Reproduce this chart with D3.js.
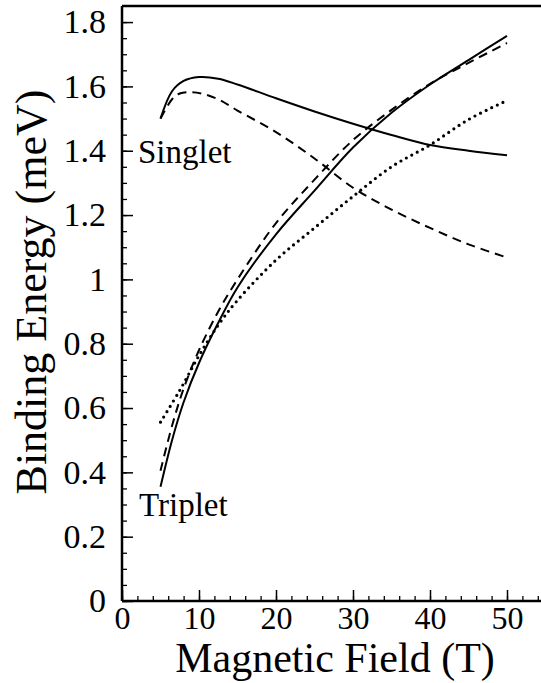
<!DOCTYPE html>
<html>
<head>
<meta charset="utf-8">
<script src="https://cdn.jsdelivr.net/npm/d3@7"></script>
<style>
  body { margin: 0; background: #fff; }
  svg { display: block; }
  text { font-family: "Liberation Serif", "Times New Roman", serif; fill: #000; }
</style>
</head>
<body>
<div id="chart"></div>
<script>
// data: field in T, binding energy in meV
var singletSolidB = [5, 6.5, 8, 10, 12.5, 15, 20, 25, 30, 35, 40, 45, 50];
var singletSolidE = [1.50, 1.585, 1.617, 1.629, 1.624, 1.606, 1.563, 1.522, 1.484, 1.449, 1.418, 1.400, 1.386];

var singletDashB = [5, 6.5, 7.5, 9, 10.5, 12.5, 15, 20, 25, 30, 35, 40, 45, 50];
var singletDashE = [1.50, 1.56, 1.578, 1.582, 1.577, 1.56, 1.525, 1.458, 1.376, 1.285, 1.217, 1.160, 1.109, 1.068];

var tripletSolidB = [5, 6.5, 8, 10, 12.5, 15, 20, 25, 30, 35, 40, 45, 50];
var tripletSolidE = [0.355, 0.50, 0.618, 0.74, 0.865, 0.975, 1.14, 1.276, 1.41, 1.518, 1.606, 1.682, 1.757];

var tripletDashB = [5, 6.5, 8, 10, 12.5, 15, 20, 25, 30, 35, 40, 45, 50];
var tripletDashE = [0.405, 0.545, 0.66, 0.78, 0.90, 1.0, 1.175, 1.31, 1.433, 1.527, 1.608, 1.673, 1.735];

var tripletDotB = [5, 7.5, 10, 12.5, 15, 20, 25, 30, 35, 40, 45, 50];
var tripletDotE = [0.556, 0.655, 0.763, 0.858, 0.935, 1.06, 1.16, 1.258, 1.35, 1.418, 1.497, 1.556];

var xMajor = [0, 10, 20, 30, 40, 50];
var yMajor = [0, 0.2, 0.4, 0.6, 0.8, 1, 1.2, 1.4, 1.6, 1.8];

// size
var svgW = 541, svgH = 683;
var margin = {top: 6, left: 122, bottom: 82};

var svg = d3.select("#chart").append("svg").attr("width", svgW).attr("height", svgH);

var x = d3.scaleLinear().domain([0, 55]).range([margin.left, margin.left + 55 * 7.7]);
var y = d3.scaleLinear().domain([0, 1.85]).range([svgH - margin.bottom, margin.top]);

// minor ticks first, then major axes
svg.append("g")
    .attr("transform", "translate(0," + y(0) + ")")
    .call(d3.axisBottom(x).tickValues(d3.range(0, 55, 2)).tickSizeInner(-5).tickSizeOuter(0).tickFormat(""))
    .call(function(g){ g.select(".domain").remove(); })
    .selectAll("line").attr("stroke-width", 1.3);

svg.append("g")
    .attr("transform", "translate(" + x(0) + ",0)")
    .call(d3.axisLeft(y).tickValues(d3.range(0, 37).map(function(i){ return i * 0.05; })).tickSizeInner(-5).tickSizeOuter(0).tickFormat(""))
    .call(function(g){ g.select(".domain").remove(); })
    .selectAll("line").attr("stroke-width", 1.3);

var xAxis = svg.append("g")
    .attr("transform", "translate(0," + y(0) + ")")
    .call(d3.axisBottom(x).tickValues(xMajor).tickSizeInner(-11).tickSizeOuter(0).tickPadding(5)
        .tickFormat(function(d){ return d; }));
xAxis.select(".domain").attr("d", "M" + x(0) + ",0H" + svgW).attr("stroke-width", 2.5);
xAxis.selectAll("line").attr("stroke-width", 1.5);
xAxis.selectAll("text").attr("font-size", 32);

var yAxis = svg.append("g")
    .attr("transform", "translate(" + x(0) + ",0)")
    .call(d3.axisLeft(y).tickValues(yMajor).tickSizeInner(-11).tickSizeOuter(0).tickPadding(16)
        .tickFormat(function(d){ return d === 0 || d === 1 ? String(d) : d3.format(".1f")(d); }));
yAxis.select(".domain").attr("d", "M0," + y(0) + "V" + margin.top).attr("stroke-width", 2.5);
yAxis.selectAll("line").attr("stroke-width", 1.5);
yAxis.selectAll("text").attr("font-size", 34);

// top frame
svg.append("line")
    .attr("x1", x(0)).attr("x2", svgW)
    .attr("y1", y(1.85)).attr("y2", y(1.85))
    .attr("stroke", "#000").attr("stroke-width", 2.5);

// curves
var line = d3.line()
    .x(function(d){ return x(d[0]); })
    .y(function(d){ return y(d[1]); })
    .curve(d3.curveCatmullRom.alpha(0.5));

function addCurve(bs, es, dash, width, cap) {
    svg.append("path")
        .datum(d3.zip(bs, es))
        .attr("d", line)
        .attr("fill", "none")
        .attr("stroke", "#000")
        .attr("stroke-width", width)
        .attr("stroke-linecap", cap)
        .attr("stroke-dasharray", dash);
}

addCurve(singletSolidB, singletSolidE, null, 2, "butt");
addCurve(singletDashB, singletDashE, "9,6", 2, "butt");
addCurve(tripletSolidB, tripletSolidE, null, 2, "butt");
addCurve(tripletDashB, tripletDashE, "9,6", 2, "butt");
addCurve(tripletDotB, tripletDotE, "0,6.2", 3.2, "round");

// labels
svg.append("text").attr("x", 138).attr("y", 163).attr("font-size", 33).text("Singlet");
svg.append("text").attr("x", 139).attr("y", 516).attr("font-size", 33).text("Triplet");

svg.append("text")
    .attr("x", 335).attr("y", 672)
    .attr("text-anchor", "middle")
    .attr("font-size", 42)
    .text("Magnetic Field (T)");

svg.append("text")
    .attr("transform", "translate(46,292) rotate(-90)")
    .attr("text-anchor", "middle")
    .attr("font-size", 44)
    .text("Binding Energy (meV)");
</script>
</body>
</html>
